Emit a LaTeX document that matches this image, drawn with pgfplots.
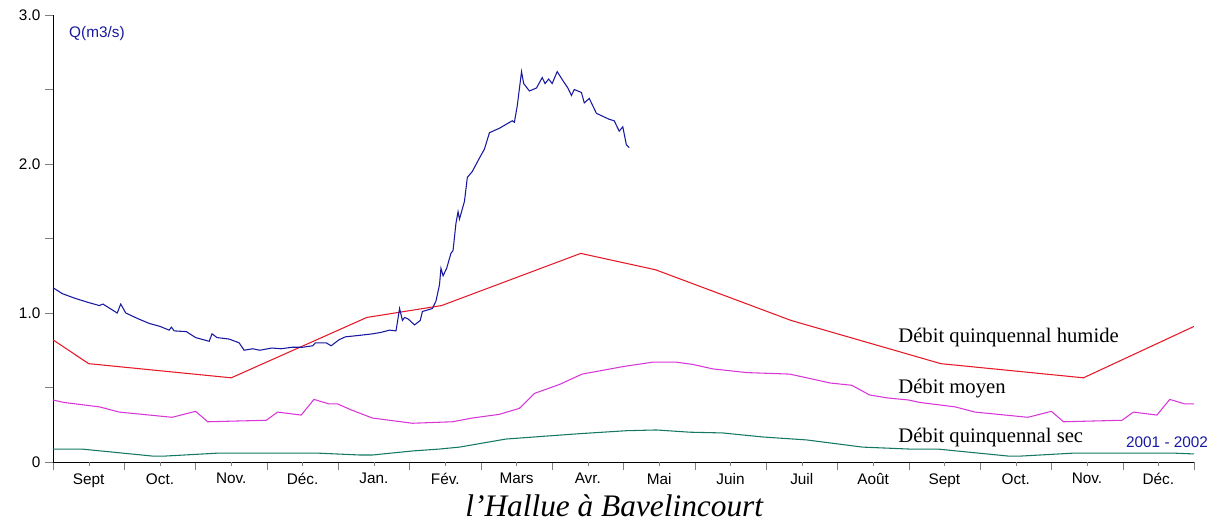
\documentclass[border=0pt]{standalone}
\usepackage{fontspec}
\setmainfont{Liberation Serif}
\setsansfont{Liberation Sans}
\usepackage{pgfplots}
\pgfplotsset{compat=1.18}
\definecolor{cblue}{RGB}{25,25,160}
\definecolor{cred}{RGB}{230,25,40}
\definecolor{cmag}{RGB}{215,55,215}
\definecolor{cgreen}{RGB}{20,120,100}
\begin{document}
\begin{tikzpicture}
\begin{axis}[
  scale only axis,
  width=855.75pt, height=335.25pt,
  xmin=0, xmax=16, ymin=0, ymax=3,
  axis lines*=left,
  clip=false,
  tick align=outside,
  major tick length=6pt,
  xtick={0,...,16}, xticklabels={},
  extra x ticks={0.5,1.5,...,15.5},
  extra x tick labels={Sept,Oct.,Nov.,Déc.,Jan.,Fév.,Mars,Avr.,Mai,Juin,Juil,Août,Sept,Oct.,Nov.,Déc.},
  extra x tick style={major tick length=3pt},
  xticklabel style={font=\sffamily\fontsize{11.5}{13}\selectfont, yshift=-2pt},
  ytick={0,0.5,...,3}, yticklabels={0,,1.0,,2.0,,3.0},
  yticklabel style={font=\sffamily\fontsize{11.5}{13}\selectfont},
  every axis plot/.append style={line width=0.8pt, mark=none},
]
\coordinate (O) at (rel axis cs:0,0);
% Debit quinquennal humide
\addplot[cred] coordinates {(0,0.82) (0.5,0.66) (2.5,0.565) (4.4,0.97) (5.45,1.05) (7.4,1.40) (8.45,1.29) (10.35,0.95) (12.45,0.66) (14.45,0.565) (16,0.91)};
% Debit moyen
\addplot[cmag] coordinates {(0,0.416) (0.15,0.40) (0.65,0.37) (0.93,0.335) (1.67,0.30) (2.0,0.34) (2.17,0.27) (2.99,0.28) (3.15,0.335) (3.48,0.315) (3.66,0.42) (3.87,0.39) (3.99,0.39) (4.18,0.35) (4.48,0.295) (5.04,0.26) (5.6,0.27) (5.88,0.295) (6.26,0.32) (6.54,0.36) (6.75,0.46) (7.1,0.52) (7.42,0.59) (7.99,0.64) (8.41,0.67) (8.74,0.67) (8.97,0.655) (9.25,0.625) (9.73,0.60) (10.33,0.59) (10.57,0.565) (10.9,0.53) (11.2,0.515) (11.45,0.45) (11.7,0.43) (12.0,0.416) (12.15,0.40) (12.65,0.37) (12.93,0.335) (13.67,0.30) (14.0,0.34) (14.17,0.27) (14.99,0.28) (15.15,0.335) (15.48,0.315) (15.66,0.42) (15.87,0.39) (16.0,0.39)};
% Debit quinquennal sec
\addplot[cgreen] coordinates {(0,0.087) (0.4,0.087) (0.97,0.06) (1.39,0.04) (1.58,0.04) (2.33,0.06) (3.69,0.06) (4.3,0.047) (4.48,0.047) (5.04,0.074) (5.42,0.087) (5.7,0.10) (6.35,0.154) (7.38,0.19) (8.04,0.21) (8.46,0.215) (8.93,0.20) (9.39,0.195) (9.95,0.168) (10.57,0.148) (11.35,0.10) (12.0,0.087) (12.4,0.087) (12.97,0.06) (13.39,0.04) (13.58,0.04) (14.33,0.06) (15.69,0.06) (16.0,0.054)};
% 2001-2002
\addplot[cblue] coordinates {(0,1.17) (0.13,1.13) (0.3,1.10) (0.5,1.07) (0.65,1.05) (0.7,1.06) (0.9,1.0) (0.95,1.06) (1.02,1.0) (1.2,0.96) (1.35,0.93) (1.5,0.91) (1.63,0.885) (1.66,0.905) (1.7,0.88) (1.87,0.875) (2.0,0.835) (2.19,0.81) (2.23,0.86) (2.3,0.835) (2.47,0.825) (2.61,0.80) (2.68,0.75) (2.8,0.76) (2.9,0.75) (3.07,0.765) (3.2,0.76) (3.35,0.77) (3.5,0.77) (3.64,0.78) (3.68,0.80) (3.83,0.80) (3.9,0.78) (4.01,0.82) (4.1,0.84) (4.3,0.85) (4.48,0.86) (4.6,0.87) (4.72,0.885) (4.81,0.88) (4.86,1.03) (4.9,0.95) (4.93,0.97) (4.98,0.96) (5.07,0.92) (5.15,0.95) (5.18,1.01) (5.32,1.03) (5.37,1.08) (5.42,1.19) (5.44,1.30) (5.47,1.25) (5.52,1.30) (5.58,1.40) (5.61,1.42) (5.65,1.60) (5.68,1.68) (5.7,1.63) (5.77,1.75) (5.81,1.91) (5.88,1.95) (5.98,2.04) (6.05,2.10) (6.12,2.21) (6.26,2.24) (6.44,2.29) (6.47,2.28) (6.51,2.39) (6.57,2.62) (6.6,2.54) (6.68,2.49) (6.78,2.51) (6.86,2.58) (6.9,2.54) (6.95,2.57) (7.0,2.54) (7.07,2.62) (7.15,2.56) (7.22,2.51) (7.27,2.46) (7.31,2.50) (7.41,2.48) (7.45,2.41) (7.52,2.44) (7.62,2.34) (7.8,2.30) (7.87,2.29) (7.94,2.22) (7.99,2.25) (8.04,2.13) (8.08,2.11)};
\node[anchor=base west, font=\sffamily\fontsize{11.5}{13}\selectfont, text=cblue, inner sep=0] at (axis cs:0.224,2.852) {Q(m3/s)};
\node[anchor=base east, font=\sffamily\fontsize{11.5}{13}\selectfont, text=cblue, inner sep=0] at (axis cs:16.2,0.094) {2001 - 2002};
\node[anchor=base west, font=\fontsize{15.5}{18}\selectfont, inner sep=0] at (axis cs:11.85,0.805) {Débit quinquennal humide};
\node[anchor=base west, font=\fontsize{15.5}{18}\selectfont, inner sep=0] at (axis cs:11.85,0.463) {Débit moyen};
\node[anchor=base west, font=\fontsize{15.5}{18}\selectfont, inner sep=0] at (axis cs:11.85,0.128) {Débit quinquennal sec};
\node[anchor=base, font=\itshape\fontsize{23.5}{26}\selectfont, inner sep=0] at (axis cs:7.87,-0.369) {l’Hallue à Bavelincourt};
\end{axis}
\pgfresetboundingbox
\useasboundingbox (O) ++(-39.75pt,-46.5pt) rectangle ++(915pt,393pt);
\end{tikzpicture}
\end{document}
